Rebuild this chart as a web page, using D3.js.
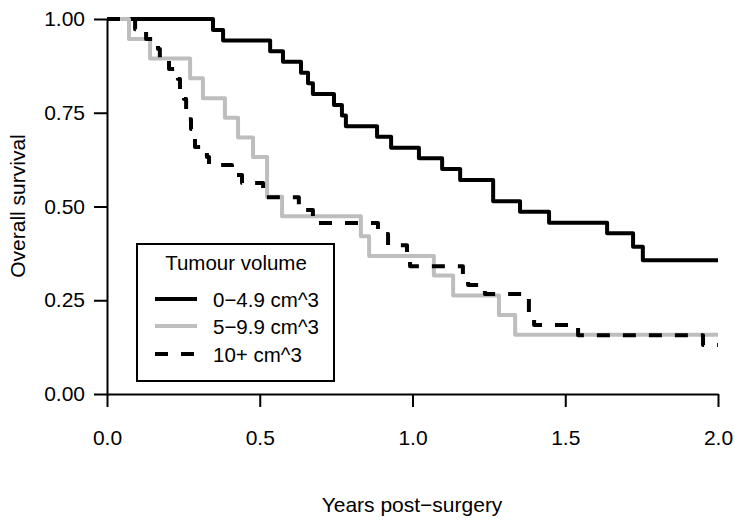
<!DOCTYPE html>
<html>
<head>
<meta charset="utf-8">
<script src="https://cdn.jsdelivr.net/npm/d3@7"></script>
<style>
  html, body { margin: 0; padding: 0; background: #fff; }
  svg { display: block; font-family: "Liberation Sans", Arial, sans-serif; }
</style>
</head>
<body>
<svg id="chart" width="735" height="525"></svg>
<script>
// ---- Data ----
const seriesNames = ["0\u22124.9 cm^3", "5\u22129.9 cm^3", "10+ cm^3"];

// Kaplan-Meier step times (years) and survival after each step
const smallTimes = [0, 0.347, 0.380, 0.534, 0.576, 0.635, 0.658, 0.674, 0.743, 0.769, 0.782, 0.884, 0.930, 1.021, 1.097, 1.156, 1.264, 1.352, 1.447, 1.637, 1.722, 1.754];
const smallSurv  = [1, 0.971, 0.943, 0.914, 0.886, 0.857, 0.829, 0.800, 0.771, 0.743, 0.714, 0.686, 0.657, 0.629, 0.600, 0.571, 0.514, 0.486, 0.457, 0.429, 0.393, 0.357];

const midTimes = [0, 0.072, 0.141, 0.272, 0.314, 0.386, 0.429, 0.478, 0.524, 0.573, 0.831, 0.858, 1.070, 1.133, 1.283, 1.336];
const midSurv  = [1, 0.947, 0.895, 0.842, 0.789, 0.737, 0.684, 0.632, 0.526, 0.474, 0.421, 0.368, 0.316, 0.263, 0.211, 0.158];

const largeTimes = [0, 0.092, 0.128, 0.167, 0.173, 0.203, 0.232, 0.239, 0.252, 0.259, 0.268, 0.275, 0.282, 0.288, 0.327, 0.334, 0.409, 0.442, 0.511, 0.628, 0.674, 0.887, 0.920, 0.982, 0.992, 1.165, 1.182, 1.237, 1.381, 1.398, 1.542, 1.951];
const largeSurv  = [1, 0.973, 0.947, 0.920, 0.893, 0.867, 0.840, 0.813, 0.787, 0.760, 0.733, 0.707, 0.683, 0.659, 0.632, 0.611, 0.584, 0.563, 0.525, 0.491, 0.456, 0.427, 0.397, 0.368, 0.341, 0.315, 0.291, 0.267, 0.211, 0.184, 0.157, 0.131];

const xTicks = [0, 0.5, 1.0, 1.5, 2.0];
const yTicks = [0, 0.25, 0.5, 0.75, 1.0];
const xMax = 2.0;

const legendTitle = "Tumour volume";
const xTitle = "Years post\u2212surgery";
const yTitle = "Overall survival";

// ---- Drawing ----
const svg = d3.select("#chart");
const FS = 21;

const x = d3.scaleLinear().domain([0, 2]).range([107, 718]);
const y = d3.scaleLinear().domain([0, 1]).range([394, 19]);

const styles = [
  { stroke: "#000000", dash: null },
  { stroke: "#BEBEBE", dash: null },
  { stroke: "#000000", dash: "13,13" }
];

function toPts(times, surv) {
  const pts = times.map((t, i) => [t, surv[i]]);
  pts.push([xMax, surv[surv.length - 1]]);
  return pts;
}
const allSeries = [toPts(smallTimes, smallSurv), toPts(midTimes, midSurv), toPts(largeTimes, largeSurv)];

const line = d3.line().x(d => x(d[0])).y(d => y(d[1])).curve(d3.curveStepAfter);

// axes
const xAxis = svg.append("g").attr("transform", "translate(0,394)")
  .call(d3.axisBottom(x).tickValues(xTicks).tickFormat(d3.format(".1f")).tickSize(13).tickSizeOuter(0).tickPadding(23));
const yAxis = svg.append("g").attr("transform", "translate(107,0)")
  .call(d3.axisLeft(y).tickValues(yTicks).tickFormat(d3.format(".2f")).tickSize(13).tickSizeOuter(0).tickPadding(9));
[xAxis, yAxis].forEach(g => {
  g.selectAll("path.domain").attr("stroke", "#000").attr("stroke-width", 2);
  g.selectAll(".tick line").attr("stroke", "#000").attr("stroke-width", 2);
  g.selectAll(".tick text").attr("fill", "#000").style("font-size", FS + "px")
    .style("font-family", '"Liberation Sans", Arial, sans-serif');
});

// curves
allSeries.forEach((pts, i) => {
  svg.append("path")
    .attr("d", line(pts))
    .attr("fill", "none")
    .attr("stroke", styles[i].stroke)
    .attr("stroke-width", 4)
    .attr("stroke-dasharray", styles[i].dash)
    .attr("stroke-linejoin", "round");
});

// titles
svg.append("text").attr("x", 412).attr("y", 512).attr("text-anchor", "middle")
  .style("font-size", FS + "px").text(xTitle);
svg.append("text").attr("transform", "translate(25,206) rotate(-90)").attr("text-anchor", "middle")
  .style("font-size", FS + "px").text(yTitle);

// legend
const lg = svg.append("g");
lg.append("rect").attr("x", 137).attr("y", 244).attr("width", 197).attr("height", 137)
  .attr("fill", "#fff").attr("stroke", "#000").attr("stroke-width", 2);
lg.append("text").attr("x", 236).attr("y", 270).attr("text-anchor", "middle")
  .style("font-size", "20.5px").text(legendTitle);
const rowY = [299, 326, 354];
seriesNames.forEach((name, i) => {
  lg.append("line").attr("x1", 155).attr("x2", 197).attr("y1", rowY[i]).attr("y2", rowY[i])
    .attr("stroke", styles[i].stroke).attr("stroke-width", 4)
    .attr("stroke-dasharray", styles[i].dash ? "13,13" : null);
  lg.append("text").attr("x", 213).attr("y", rowY[i] + 7.5)
    .style("font-size", "20.5px").text(name);
});
</script>
</body>
</html>
